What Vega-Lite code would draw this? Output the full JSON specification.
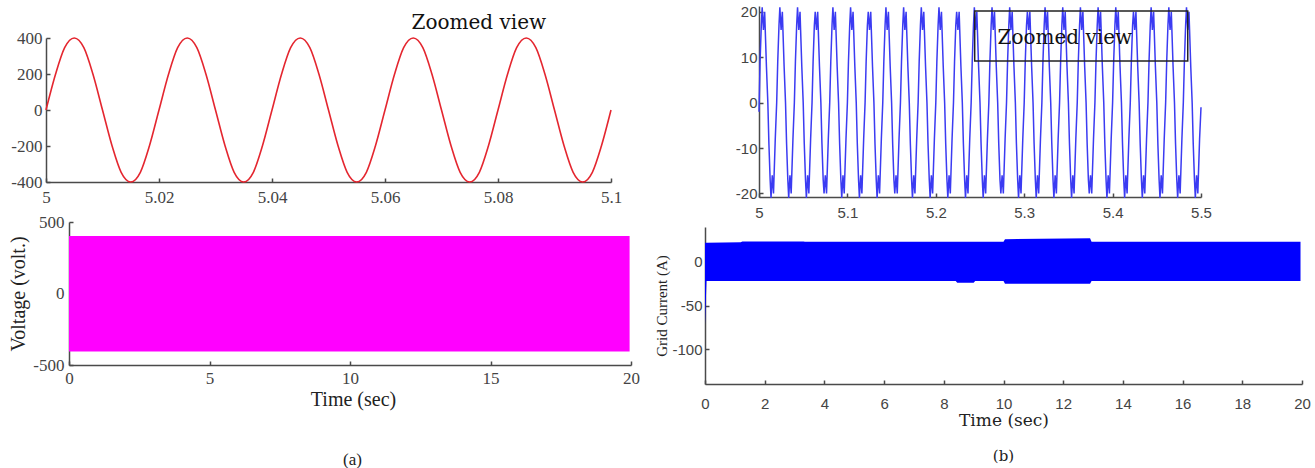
{
  "$schema": "https://vega.github.io/schema/vega-lite/v6.json",
  "background": "white",
  "padding": {"left": 8, "top": 4, "right": 5, "bottom": 0},
  "spacing": 14,
  "hconcat": [
    {
      "spacing": 8,
      "vconcat": [
        {
          "width": 565,
          "height": 176,
          "encoding": {
            "x": {"field": "t", "type": "quantitative", "scale": {"domain": [5, 5.1], "nice": false, "zero": false},
                  "axis": {"title": null, "values": [5, 5.02, 5.04, 5.06, 5.08, 5.1], "format": "~f", "labelFont": "Liberation Serif", "labelFontSize": 17, "labelPadding": 11}},
            "y": {"field": "v", "type": "quantitative", "scale": {"domain": [-400, 400], "nice": false, "range": [176, 32]},
                  "axis": {"title": null, "values": [-400, -200, 0, 200, 400], "format": "~f", "labelFont": "Liberation Serif", "labelFontSize": 17, "labelPadding": 8}}
          },
          "layer": [
            {
              "data": {"values": [
                {"t":5,"v":0},{"t":5.0017,"v":200},{"t":5.0033,"v":346},{"t":5.005,"v":400},{"t":5.0067,"v":346},{"t":5.0083,"v":200},{"t":5.01,"v":0},{"t":5.0117,"v":-200},{"t":5.0133,"v":-346},{"t":5.015,"v":-400},{"t":5.0167,"v":-346},{"t":5.0183,"v":-200},
                {"t":5.02,"v":0},{"t":5.0217,"v":200},{"t":5.0233,"v":346},{"t":5.025,"v":400},{"t":5.0267,"v":346},{"t":5.0283,"v":200},{"t":5.03,"v":0},{"t":5.0317,"v":-200},{"t":5.0333,"v":-346},{"t":5.035,"v":-400},{"t":5.0367,"v":-346},{"t":5.0383,"v":-200},
                {"t":5.04,"v":0},{"t":5.0417,"v":200},{"t":5.0433,"v":346},{"t":5.045,"v":400},{"t":5.0467,"v":346},{"t":5.0483,"v":200},{"t":5.05,"v":0},{"t":5.0517,"v":-200},{"t":5.0533,"v":-346},{"t":5.055,"v":-400},{"t":5.0567,"v":-346},{"t":5.0583,"v":-200},
                {"t":5.06,"v":0},{"t":5.0617,"v":200},{"t":5.0633,"v":346},{"t":5.065,"v":400},{"t":5.0667,"v":346},{"t":5.0683,"v":200},{"t":5.07,"v":0},{"t":5.0717,"v":-200},{"t":5.0733,"v":-346},{"t":5.075,"v":-400},{"t":5.0767,"v":-346},{"t":5.0783,"v":-200},
                {"t":5.08,"v":0},{"t":5.0817,"v":200},{"t":5.0833,"v":346},{"t":5.085,"v":400},{"t":5.0867,"v":346},{"t":5.0883,"v":200},{"t":5.09,"v":0},{"t":5.0917,"v":-200},{"t":5.0933,"v":-346},{"t":5.095,"v":-400},{"t":5.0967,"v":-346},{"t":5.0983,"v":-200},
                {"t":5.1,"v":0}
              ]},
              "mark": {"type": "line", "color": "#e4262f", "strokeWidth": 1.6, "interpolate": "monotone"}
            },
            {
              "data": {"values": [{"t": 5.0766, "v": 483, "label": "Zoomed view"}]},
              "mark": {"type": "text", "font": "DejaVu Serif", "fontSize": 20, "color": "#111"},
              "encoding": {"text": {"field": "label"}}
            }
          ]
        },
        {
          "width": 585,
          "height": 143,
          "title": {"text": "(a)", "orient": "bottom", "anchor": "middle", "font": "Liberation Serif", "fontSize": 17, "fontWeight": "normal", "offset": 43, "color": "#222", "dx": 14},
          "data": {"values": [
            {"t": 0, "lo": -405, "hi": 402},
            {"t": 19.95, "lo": -405, "hi": 402}
          ]},
          "mark": {"type": "area", "color": "#ff00ff", "opacity": 1},
          "encoding": {
            "x": {"field": "t", "type": "quantitative", "scale": {"domain": [0, 20], "nice": false, "range": [23, 585]},
                  "axis": {"title": "Time (sec)", "values": [0, 5, 10, 15, 20], "labelFont": "Liberation Serif", "labelFontSize": 17, "titleFont": "Liberation Serif", "titleFontSize": 20, "labelPadding": 9, "titlePadding": 3, "titleX": 307}},
            "y": {"field": "lo", "type": "quantitative", "scale": {"domain": [-500, 500], "nice": false},
                  "axis": {"title": "Voltage (volt.)", "offset": -23, "values": [-500, 0, 500], "labelFont": "Liberation Serif", "labelFontSize": 17, "titleFont": "Liberation Serif", "titleFontSize": 20, "labelPadding": 9, "titlePadding": 4}},
            "y2": {"field": "hi"}
          }
        }
      ]
    },
    {
      "spacing": 7,
      "vconcat": [
        {
          "width": 496,
          "height": 191,
          "encoding": {
            "x": {"field": "t", "type": "quantitative", "scale": {"domain": [5, 5.5], "nice": false, "zero": false, "range": [54, 496]},
                  "axis": {"title": null, "values": [5, 5.1, 5.2, 5.3, 5.4, 5.5], "format": "~f", "labelFont": "Liberation Sans", "labelFontSize": 15, "labelPadding": 12}},
            "y": {"field": "v", "type": "quantitative", "scale": {"domain": [-20.8, 21.3], "nice": false, "zero": false},
                  "axis": {"title": null, "offset": -54, "values": [-20, -10, 0, 10, 20], "format": "~f", "labelFont": "Liberation Sans", "labelFontSize": 15, "labelPadding": 6}}
          },
          "layer": [
            {
              "data": {"values": [
                {"t":5,"v":-2},{"t":5.0012,"v":9},{"t":5.0026,"v":17},{"t":5.0036,"v":21},{"t":5.005,"v":16},{"t":5.0064,"v":20},{"t":5.0084,"v":8},{"t":5.01,"v":0},{"t":5.0112,"v":-9},{"t":5.0126,"v":-17},{"t":5.0136,"v":-21},{"t":5.015,"v":-16},{"t":5.0164,"v":-20},{"t":5.0184,"v":-8},
                {"t":5.02,"v":0},{"t":5.0212,"v":9},{"t":5.0226,"v":17},{"t":5.0236,"v":21},{"t":5.025,"v":16},{"t":5.0264,"v":20},{"t":5.0284,"v":8},{"t":5.03,"v":0},{"t":5.0312,"v":-9},{"t":5.0326,"v":-17},{"t":5.0336,"v":-21},{"t":5.035,"v":-16},{"t":5.0364,"v":-20},{"t":5.0384,"v":-8},
                {"t":5.04,"v":0},{"t":5.0412,"v":9},{"t":5.0426,"v":17},{"t":5.0436,"v":21},{"t":5.045,"v":16},{"t":5.0464,"v":20},{"t":5.0484,"v":8},{"t":5.05,"v":0},{"t":5.0512,"v":-9},{"t":5.0526,"v":-17},{"t":5.0536,"v":-21},{"t":5.055,"v":-16},{"t":5.0564,"v":-20},{"t":5.0584,"v":-8},
                {"t":5.06,"v":0},{"t":5.0612,"v":9},{"t":5.0626,"v":17},{"t":5.0636,"v":20},{"t":5.065,"v":16},{"t":5.0664,"v":20},{"t":5.0684,"v":8},{"t":5.07,"v":0},{"t":5.0712,"v":-9},{"t":5.0726,"v":-17},{"t":5.0736,"v":-20},{"t":5.075,"v":-16},{"t":5.0764,"v":-20},{"t":5.0784,"v":-8},
                {"t":5.08,"v":0},{"t":5.0812,"v":9},{"t":5.0826,"v":17},{"t":5.0836,"v":21},{"t":5.085,"v":16},{"t":5.0864,"v":20},{"t":5.0884,"v":8},{"t":5.09,"v":0},{"t":5.0912,"v":-9},{"t":5.0926,"v":-17},{"t":5.0936,"v":-21},{"t":5.095,"v":-16},{"t":5.0964,"v":-20},{"t":5.0984,"v":-8},
                {"t":5.10,"v":0},{"t":5.1012,"v":9},{"t":5.1026,"v":17},{"t":5.1036,"v":21},{"t":5.105,"v":16},{"t":5.1064,"v":20},{"t":5.1084,"v":8},{"t":5.11,"v":0},{"t":5.1112,"v":-9},{"t":5.1126,"v":-17},{"t":5.1136,"v":-21},{"t":5.115,"v":-16},{"t":5.1164,"v":-20},{"t":5.1184,"v":-8},
                {"t":5.12,"v":0},{"t":5.1212,"v":9},{"t":5.1226,"v":17},{"t":5.1236,"v":20},{"t":5.125,"v":16},{"t":5.1264,"v":20},{"t":5.1284,"v":8},{"t":5.13,"v":0},{"t":5.1312,"v":-9},{"t":5.1326,"v":-17},{"t":5.1336,"v":-21},{"t":5.135,"v":-16},{"t":5.1364,"v":-20},{"t":5.1384,"v":-8},
                {"t":5.14,"v":0},{"t":5.1412,"v":9},{"t":5.1426,"v":17},{"t":5.1436,"v":21},{"t":5.145,"v":16},{"t":5.1464,"v":20},{"t":5.1484,"v":8},{"t":5.15,"v":0},{"t":5.1512,"v":-9},{"t":5.1526,"v":-17},{"t":5.1536,"v":-20},{"t":5.155,"v":-16},{"t":5.1564,"v":-20},{"t":5.1584,"v":-8},
                {"t":5.16,"v":0},{"t":5.1612,"v":9},{"t":5.1626,"v":17},{"t":5.1636,"v":21},{"t":5.165,"v":16},{"t":5.1664,"v":20},{"t":5.1684,"v":8},{"t":5.17,"v":0},{"t":5.1712,"v":-9},{"t":5.1726,"v":-17},{"t":5.1736,"v":-21},{"t":5.175,"v":-16},{"t":5.1764,"v":-20},{"t":5.1784,"v":-8},
                {"t":5.18,"v":0},{"t":5.1812,"v":9},{"t":5.1826,"v":17},{"t":5.1836,"v":21},{"t":5.185,"v":16},{"t":5.1864,"v":20},{"t":5.1884,"v":8},{"t":5.19,"v":0},{"t":5.1912,"v":-9},{"t":5.1926,"v":-17},{"t":5.1936,"v":-21},{"t":5.195,"v":-16},{"t":5.1964,"v":-20},{"t":5.1984,"v":-8},
                {"t":5.20,"v":0},{"t":5.2012,"v":9},{"t":5.2026,"v":17},{"t":5.2036,"v":21},{"t":5.205,"v":16},{"t":5.2064,"v":20},{"t":5.2084,"v":8},{"t":5.21,"v":0},{"t":5.2112,"v":-9},{"t":5.2126,"v":-17},{"t":5.2136,"v":-21},{"t":5.215,"v":-16},{"t":5.2164,"v":-20},{"t":5.2184,"v":-8},
                {"t":5.22,"v":0},{"t":5.2212,"v":9},{"t":5.2226,"v":17},{"t":5.2236,"v":20},{"t":5.225,"v":16},{"t":5.2264,"v":20},{"t":5.2284,"v":8},{"t":5.23,"v":0},{"t":5.2312,"v":-9},{"t":5.2326,"v":-17},{"t":5.2336,"v":-21},{"t":5.235,"v":-16},{"t":5.2364,"v":-20},{"t":5.2384,"v":-8},
                {"t":5.24,"v":0},{"t":5.2412,"v":9},{"t":5.2426,"v":17},{"t":5.2436,"v":21},{"t":5.245,"v":16},{"t":5.2464,"v":20},{"t":5.2484,"v":8},{"t":5.25,"v":0},{"t":5.2512,"v":-9},{"t":5.2526,"v":-17},{"t":5.2536,"v":-21},{"t":5.255,"v":-16},{"t":5.2564,"v":-20},{"t":5.2584,"v":-8},
                {"t":5.26,"v":0},{"t":5.2612,"v":9},{"t":5.2626,"v":17},{"t":5.2636,"v":21},{"t":5.265,"v":16},{"t":5.2664,"v":20},{"t":5.2684,"v":8},{"t":5.27,"v":0},{"t":5.2712,"v":-9},{"t":5.2726,"v":-17},{"t":5.2736,"v":-20},{"t":5.275,"v":-16},{"t":5.2764,"v":-20},{"t":5.2784,"v":-8},
                {"t":5.28,"v":0},{"t":5.2812,"v":9},{"t":5.2826,"v":17},{"t":5.2836,"v":21},{"t":5.285,"v":16},{"t":5.2864,"v":20},{"t":5.2884,"v":8},{"t":5.29,"v":0},{"t":5.2912,"v":-9},{"t":5.2926,"v":-17},{"t":5.2936,"v":-21},{"t":5.295,"v":-16},{"t":5.2964,"v":-20},{"t":5.2984,"v":-8},
                {"t":5.30,"v":0},{"t":5.3012,"v":9},{"t":5.3026,"v":17},{"t":5.3036,"v":20},{"t":5.305,"v":16},{"t":5.3064,"v":20},{"t":5.3084,"v":8},{"t":5.31,"v":0},{"t":5.3112,"v":-9},{"t":5.3126,"v":-17},{"t":5.3136,"v":-21},{"t":5.315,"v":-16},{"t":5.3164,"v":-20},{"t":5.3184,"v":-8},
                {"t":5.32,"v":0},{"t":5.3212,"v":9},{"t":5.3226,"v":17},{"t":5.3236,"v":21},{"t":5.325,"v":16},{"t":5.3264,"v":20},{"t":5.3284,"v":8},{"t":5.33,"v":0},{"t":5.3312,"v":-9},{"t":5.3326,"v":-17},{"t":5.3336,"v":-21},{"t":5.335,"v":-16},{"t":5.3364,"v":-20},{"t":5.3384,"v":-8},
                {"t":5.34,"v":0},{"t":5.3412,"v":9},{"t":5.3426,"v":17},{"t":5.3436,"v":21},{"t":5.345,"v":16},{"t":5.3464,"v":20},{"t":5.3484,"v":8},{"t":5.35,"v":0},{"t":5.3512,"v":-9},{"t":5.3526,"v":-17},{"t":5.3536,"v":-21},{"t":5.355,"v":-16},{"t":5.3564,"v":-20},{"t":5.3584,"v":-8},
                {"t":5.36,"v":0},{"t":5.3612,"v":9},{"t":5.3626,"v":17},{"t":5.3636,"v":21},{"t":5.365,"v":16},{"t":5.3664,"v":20},{"t":5.3684,"v":8},{"t":5.37,"v":0},{"t":5.3712,"v":-9},{"t":5.3726,"v":-17},{"t":5.3736,"v":-20},{"t":5.375,"v":-16},{"t":5.3764,"v":-20},{"t":5.3784,"v":-8},
                {"t":5.38,"v":0},{"t":5.3812,"v":9},{"t":5.3826,"v":17},{"t":5.3836,"v":21},{"t":5.385,"v":16},{"t":5.3864,"v":20},{"t":5.3884,"v":8},{"t":5.39,"v":0},{"t":5.3912,"v":-9},{"t":5.3926,"v":-17},{"t":5.3936,"v":-21},{"t":5.395,"v":-16},{"t":5.3964,"v":-20},{"t":5.3984,"v":-8},
                {"t":5.40,"v":0},{"t":5.4012,"v":9},{"t":5.4026,"v":17},{"t":5.4036,"v":21},{"t":5.405,"v":16},{"t":5.4064,"v":20},{"t":5.4084,"v":8},{"t":5.41,"v":0},{"t":5.4112,"v":-9},{"t":5.4126,"v":-17},{"t":5.4136,"v":-21},{"t":5.415,"v":-16},{"t":5.4164,"v":-20},{"t":5.4184,"v":-8},
                {"t":5.42,"v":0},{"t":5.4212,"v":9},{"t":5.4226,"v":17},{"t":5.4236,"v":20},{"t":5.425,"v":16},{"t":5.4264,"v":20},{"t":5.4284,"v":8},{"t":5.43,"v":0},{"t":5.4312,"v":-9},{"t":5.4326,"v":-17},{"t":5.4336,"v":-21},{"t":5.435,"v":-16},{"t":5.4364,"v":-20},{"t":5.4384,"v":-8},
                {"t":5.44,"v":0},{"t":5.4412,"v":9},{"t":5.4426,"v":17},{"t":5.4436,"v":21},{"t":5.445,"v":16},{"t":5.4464,"v":20},{"t":5.4484,"v":8},{"t":5.45,"v":0},{"t":5.4512,"v":-9},{"t":5.4526,"v":-17},{"t":5.4536,"v":-21},{"t":5.455,"v":-16},{"t":5.4564,"v":-20},{"t":5.4584,"v":-8},
                {"t":5.46,"v":0},{"t":5.4612,"v":9},{"t":5.4626,"v":17},{"t":5.4636,"v":21},{"t":5.465,"v":16},{"t":5.4664,"v":20},{"t":5.4684,"v":8},{"t":5.47,"v":0},{"t":5.4712,"v":-9},{"t":5.4726,"v":-17},{"t":5.4736,"v":-21},{"t":5.475,"v":-16},{"t":5.4764,"v":-20},{"t":5.4784,"v":-8},
                {"t":5.48,"v":0},{"t":5.4812,"v":9},{"t":5.4826,"v":17},{"t":5.4836,"v":21},{"t":5.485,"v":16},{"t":5.4864,"v":20},{"t":5.4884,"v":8},{"t":5.49,"v":0},{"t":5.4912,"v":-9},{"t":5.4926,"v":-17},{"t":5.4936,"v":-21},{"t":5.495,"v":-16},{"t":5.4964,"v":-20},{"t":5.4984,"v":-8},
                {"t":5.5,"v":-1}
              ]},
              "mark": {"type": "line", "color": "#3b3bf2", "strokeWidth": 1.5}
            },
            {
              "data": {"values": [{"t": 5.244, "t2": 5.485, "v": 9.2, "v2": 20.2}]},
              "mark": {"type": "rect", "fill": "transparent", "stroke": "#222", "strokeWidth": 1.5},
              "encoding": {"x2": {"field": "t2"}, "y2": {"field": "v2"}}
            },
            {
              "data": {"values": [{"t": 5.346, "v": 14.2, "label": "Zoomed view"}]},
              "mark": {"type": "text", "font": "DejaVu Serif", "fontSize": 20, "color": "#111"},
              "encoding": {"text": {"field": "label"}}
            }
          ]
        },
        {
          "width": 597,
          "height": 157,
          "title": {"text": "(b)", "orient": "bottom", "anchor": "middle", "font": "DejaVu Serif", "fontSize": 15, "fontWeight": "normal", "offset": 21, "color": "#222"},
          "data": {"values": [
            {"t": 0, "lo": -72, "hi": 22},
            {"t": 0.05, "lo": -22, "hi": 22},
            {"t": 1.2, "lo": -22, "hi": 22.5},
            {"t": 1.25, "lo": -22, "hi": 23.5},
            {"t": 3.3, "lo": -22, "hi": 23.5},
            {"t": 3.35, "lo": -22, "hi": 23},
            {"t": 8.4, "lo": -22, "hi": 23},
            {"t": 8.45, "lo": -24, "hi": 23},
            {"t": 9.0, "lo": -24, "hi": 23},
            {"t": 9.05, "lo": -22, "hi": 23},
            {"t": 10.0, "lo": -22, "hi": 23},
            {"t": 10.05, "lo": -25, "hi": 26},
            {"t": 12.9, "lo": -25, "hi": 27},
            {"t": 12.95, "lo": -22, "hi": 23},
            {"t": 19.95, "lo": -22, "hi": 23}
          ]},
          "mark": {"type": "area", "color": "#0000ff", "opacity": 1},
          "encoding": {
            "x": {"field": "t", "type": "quantitative", "scale": {"domain": [0, 20], "nice": false},
                  "axis": {"title": "Time (sec)", "values": [0, 2, 4, 6, 8, 10, 12, 14, 16, 18, 20], "labelFont": "Liberation Sans", "labelFontSize": 15, "titleFont": "DejaVu Serif", "titleFontSize": 17, "labelPadding": 16, "titlePadding": 1}},
            "y": {"field": "lo", "type": "quantitative", "scale": {"domain": [-140, 40], "nice": false},
                  "axis": {"title": "Grid Current (A)", "values": [-100, -50, 0], "labelFont": "Liberation Sans", "labelFontSize": 15, "titleFont": "Liberation Serif", "titleFontSize": 15, "labelPadding": 7, "titlePadding": 2}},
            "y2": {"field": "hi"}
          }
        }
      ]
    }
  ],
  "config": {
    "view": {"stroke": null},
    "locale": {"number": {"decimal": ".", "thousands": ",", "grouping": [3], "currency": ["$", ""], "minus": "-"}},
    "axis": {"grid": false, "domainColor": "#4a4a4a", "domainWidth": 1.5, "tickColor": "#4a4a4a", "tickWidth": 1.5, "tickSize": -4, "labelColor": "#444", "titleColor": "#222", "titleFontWeight": "normal", "labelFlush": false, "labelOverlap": false}
  }
}
